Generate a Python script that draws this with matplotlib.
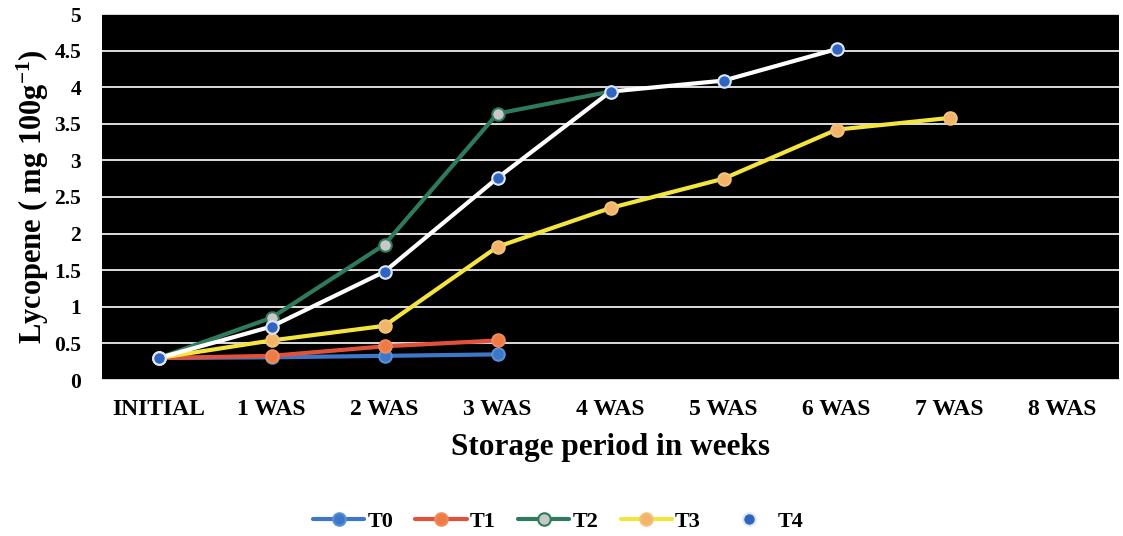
import matplotlib
matplotlib.use("Agg")
import matplotlib.pyplot as plt
from matplotlib.ticker import MultipleLocator
import numpy as np

plt.rcParams['font.family'] = ['Liberation Serif', 'DejaVu Serif']
plt.rcParams['font.weight'] = 'bold'
plt.rcParams['mathtext.fontset'] = 'custom'
plt.rcParams['mathtext.rm'] = 'Liberation Serif:bold'
plt.rcParams['mathtext.default'] = 'rm'

# Storage period categories
periods = ["INITIAL", "1 WAS", "2 WAS", "3 WAS", "4 WAS", "5 WAS", "6 WAS", "7 WAS", "8 WAS"]

# Lycopene content (mg 100g-1) per treatment
t0 = [0.30, 0.31, 0.33, 0.35]
t1 = [0.30, 0.33, 0.46, 0.54]
t2 = [0.30, 0.85, 1.85, 3.64, 3.94]
t3 = [0.30, 0.54, 0.74, 1.82, 2.35, 2.75, 3.42, 3.58]
t4 = [0.30, 0.73, 1.48, 2.76, 3.94, 4.09, 4.52]

# name, values, line colour, marker face, marker edge
series = [
    ("T0", t0, "#3d78c8", "#3d78c8", "#5a8fd6"),
    ("T1", t1, "#e2503a", "#ee7a45", "#f08a5a"),
    ("T2", t2, "#2e7b5c", "#c8c8c8", "#2e7b5c"),
    ("T3", t3, "#f3e43e", "#f2b36b", "#f2c27a"),
    ("T4", t4, "#ffffff", "#2f64c0", "#dfe6f5"),
]

fig = plt.figure(figsize=(11.23, 5.36), dpi=100)
ax = fig.add_axes([102 / 1123, 1 - 380 / 536, 1017 / 1123, 366 / 536])
ax.set_facecolor("black")

x = np.arange(len(periods))
for i, (name, vals, lc, mfc, mec) in enumerate(series):
    ax.plot(x[:len(vals)], vals, color=lc, lw=3.0, marker="o", markersize=9,
            markerfacecolor=mfc, markeredgecolor=mec, markeredgewidth=1.5,
            label=name, zorder=3 + i, solid_capstyle="round")

ax.set_xlim(-0.5, len(periods) - 0.5)
ax.set_ylim(0, 5)
ax.set_xticks(x)
ax.set_xticklabels(periods, fontsize=17, fontweight="bold")
ax.yaxis.set_major_locator(MultipleLocator(0.5))
ax.yaxis.set_major_formatter(plt.FuncFormatter(lambda v, p: f"{v:g}"))
for lab in ax.get_yticklabels():
    lab.set_fontsize(15.5)
    lab.set_fontweight("bold")
ax.tick_params(axis="both", length=0)
ax.tick_params(axis="x", pad=14)
ax.tick_params(axis="y", pad=15)
ax.grid(axis="y", color="#dcdcdc", lw=1.4, zorder=1)
ax.set_axisbelow(True)
for s in ax.spines.values():
    s.set_visible(False)

ax.set_xlabel("Storage period in weeks", fontsize=22.5, fontweight="bold", labelpad=9)
ax.set_ylabel(r"Lycopene ( mg 100g$^{-1}$)", fontsize=22, fontweight="bold", labelpad=2)

handles, labels = ax.get_legend_handles_labels()
fig.legend(handles, labels, loc="center", bbox_to_anchor=(0.497, 0.027), ncol=5,
           frameon=False, prop={"size": 16, "weight": "bold"}, handlelength=2.3,
           columnspacing=1.0, handletextpad=0.15)

fig.savefig("out.png", dpi=100)
